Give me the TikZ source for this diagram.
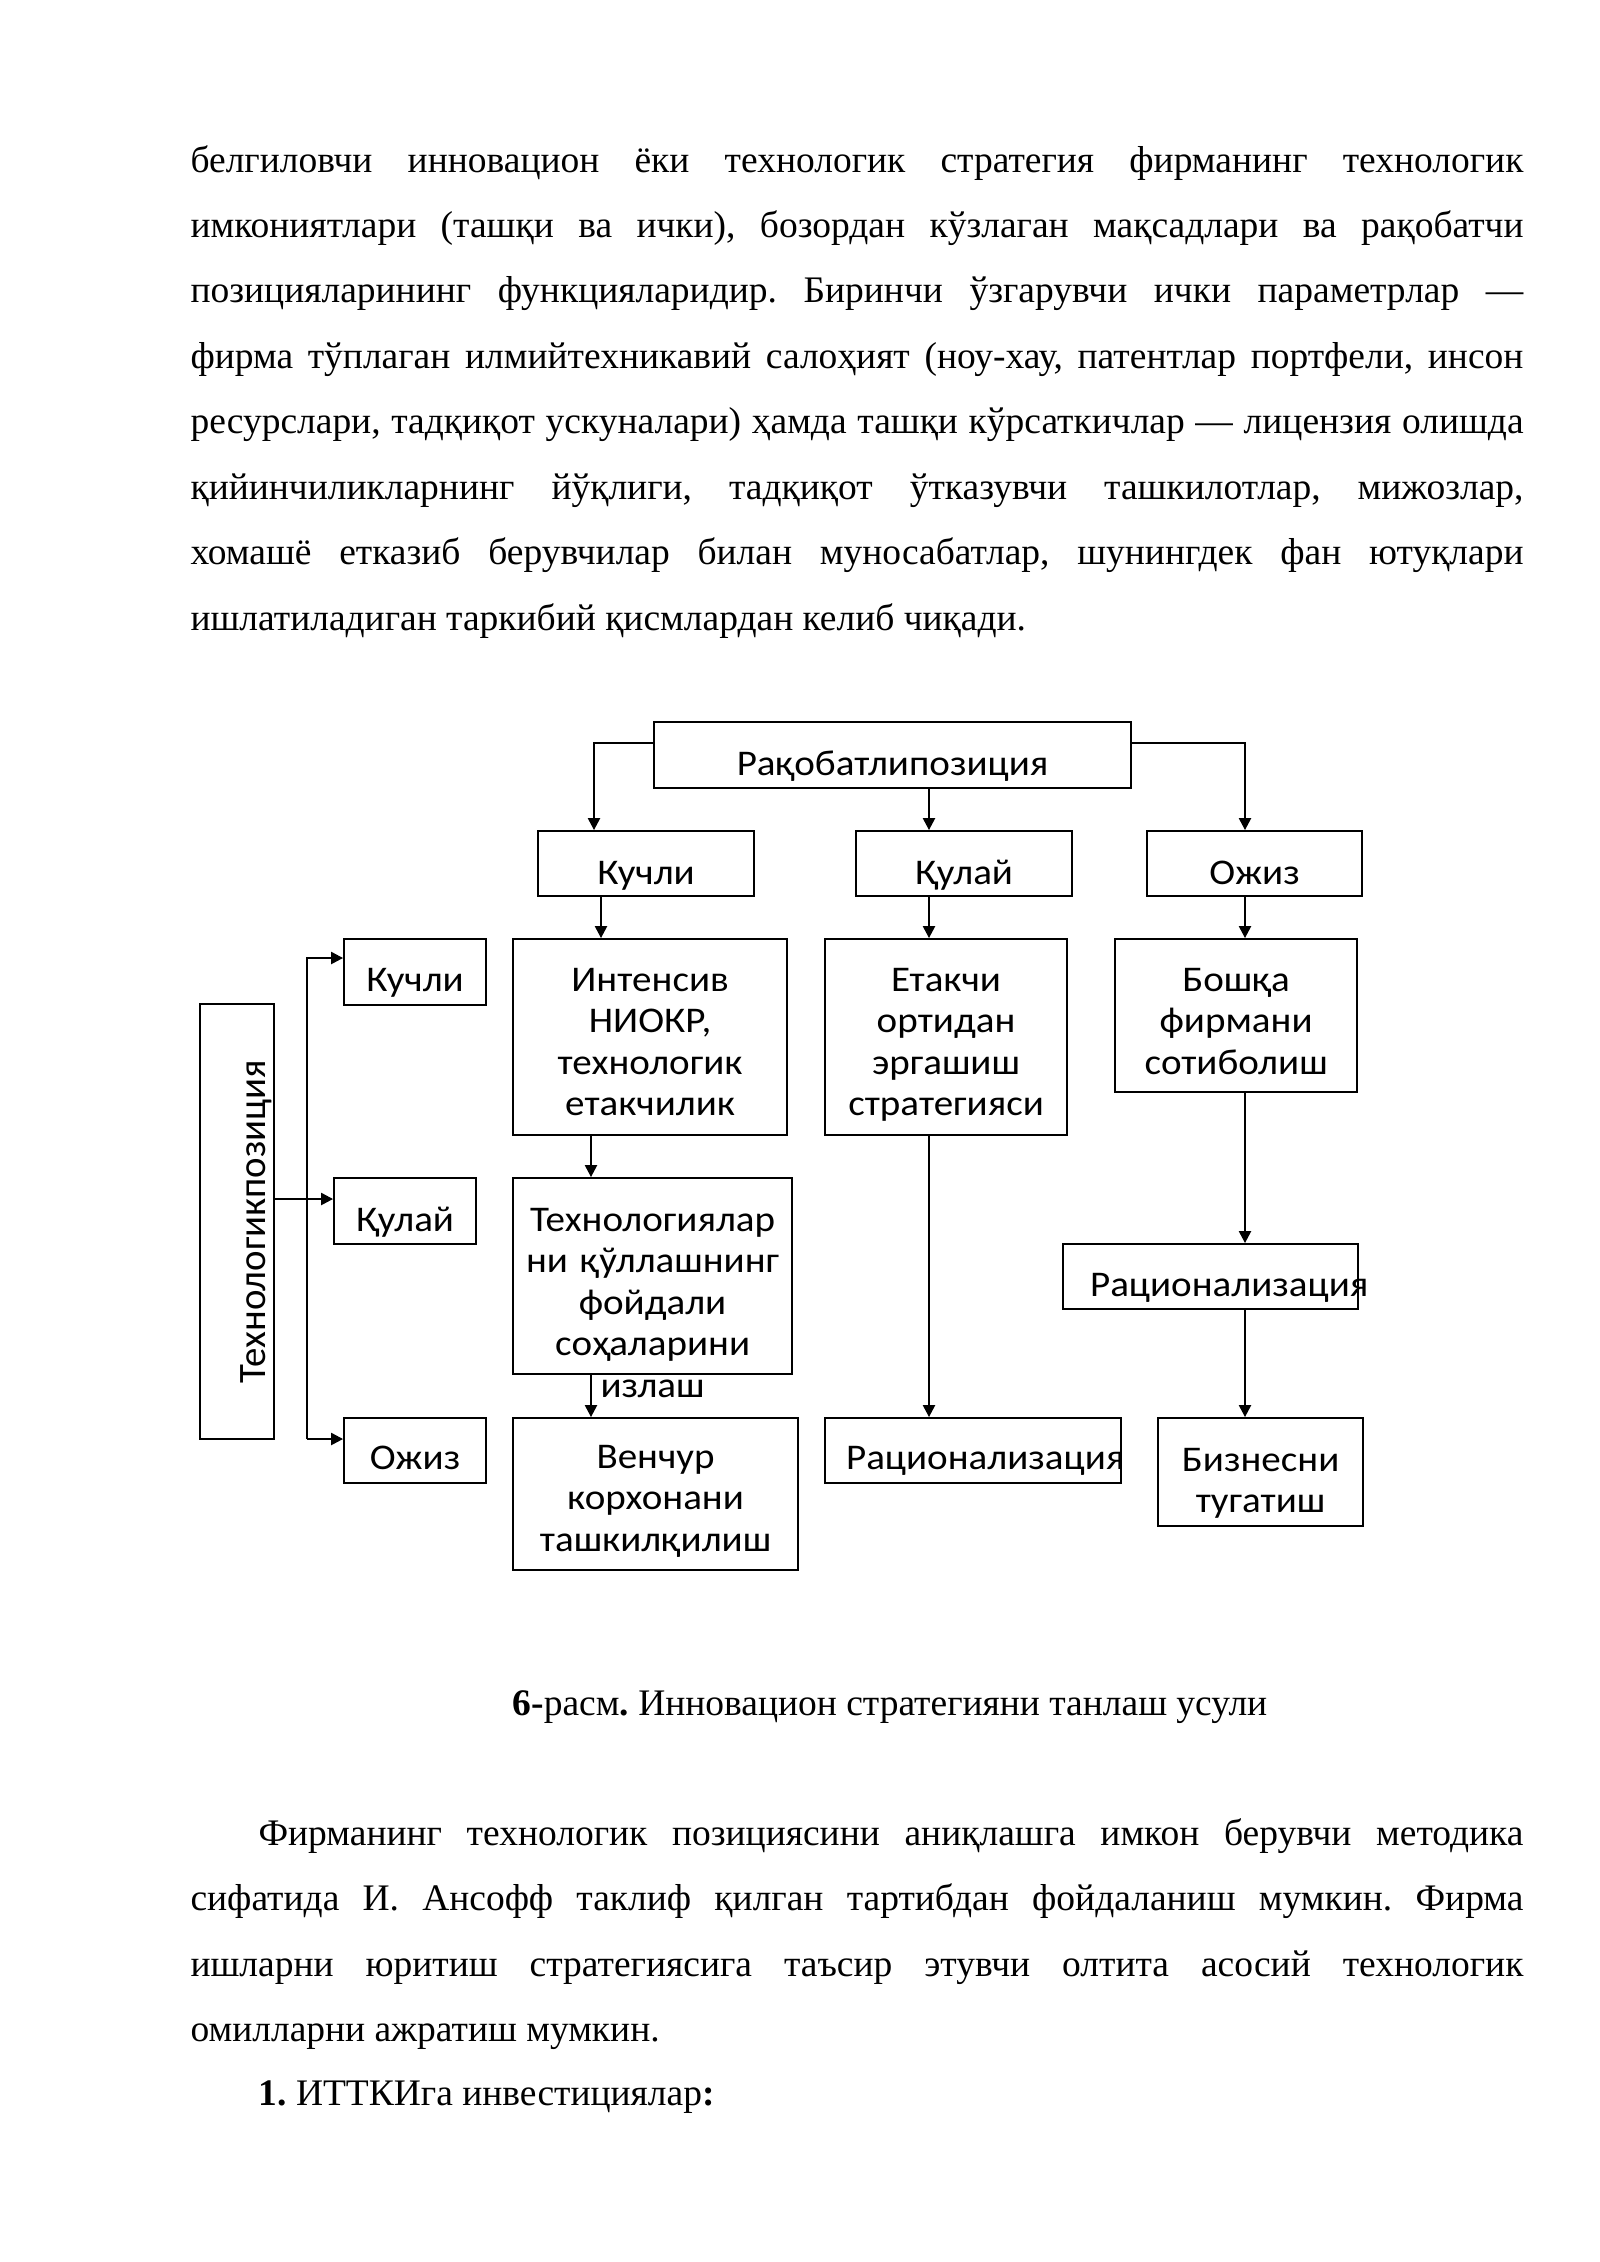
\documentclass[tikz,border=0pt]{standalone}
\usepackage{fontspec}
\setmainfont{Liberation Serif}
\newfontfamily\schemefont[FakeStretch=1.08]{Carlito}
\newfontfamily\schemerot{Carlito}
\usetikzlibrary{arrows.meta}
\newlength\pxu
\setlength\pxu{0.13125mm}
\exhyphenpenalty=10000
\hyphenpenalty=10000
\frenchspacing

\begin{document}
\begin{tikzpicture}[x=0.13125mm, y=-0.13125mm,
    box/.style={draw, line width=0.8pt, inner sep=0pt, anchor=north west, align=center,
        font=\schemefont\fontsize{13.5pt}{15.5pt}\selectfont},
    bsize/.style n args={3}{text width=#1\pxu, text height=#2\pxu, text depth=#3\pxu},
    arr/.style={-{Triangle[length=1.55mm,width=1.6mm]}, line width=0.5pt},
    para/.style={anchor=base west, inner sep=0pt, text width=1333\pxu, align=justify,
        font=\fontsize{14pt}{24.46pt}\selectfont},
    line/.style={anchor=base west, inner sep=0pt, font=\fontsize{14pt}{24.46pt}\selectfont}]
    \useasboundingbox (0,0) rectangle (1600,2262);

    % Text above
    \node[para] (p1) at (190,172) {белгиловчи инновацион ёки технологик стратегия фирманинг технологик\linebreak
        имкониятлари (ташқи ва ички), бозордан кўзлаган мақсадлари ва рақобатчи\linebreak
        позицияларининг функцияларидир. Биринчи ўзгарувчи ички параметрлар —\linebreak
        фирма тўплаган илмийтехникавий салоҳият (ноу-хау, патентлар портфели, инсон\linebreak
        ресурслари, тадқиқот ускуналари) ҳамда ташқи кўрсаткичлар — лицензия олишда\linebreak
        қийинчиликларнинг йўқлиги, тадқиқот ўтказувчи ташкилотлар, мижозлар,\linebreak
        хомашё етказиб берувчилар билан муносабатлар, шунингдек фан ютуқлари\linebreak
        ишлатиладиган таркибий қисмлардан келиб чиқади.};

    % Competitive position
    \node[box, bsize={477}{53}{13}] (rp) at (653,721) {Рақобатлипозиция};
    \node[box, bsize={216}{53}{12}] (k2) at (537,830) {Кучли};
    \node[box, bsize={216}{53}{12}] (q2) at (855,830) {Қулай};
    \node[box, bsize={215}{53}{12}] (o2) at (1146,830) {Ожиз};

    % Strategies
    \node[box, bsize={274}{52}{144}] (int) at (512,938) {Интенсив\\НИОКР,\\технологик\\етакчилик};
    \node[box, bsize={242}{52}{144}] (lead) at (824,938) {Етакчи\\ортидан\\эргашиш\\стратегияси};
    \node[box, bsize={242}{52}{101}] (sell) at (1114,938) {Бошқа\\фирмани\\сотиболиш};
    \node[box, bsize={279}{53}{143}] (use) at (512,1177) {Технологиялар\\ни~қўллашнинг\\фойдали\\соҳаларини\\излаш};
    \node[box, bsize={285}{50}{102}] (ven) at (512,1417) {Венчур\\корхонани\\ташкилқилиш};
    \node[box, align=left, bsize={296}{51}{14}] (rat1) at (824,1417) {\hspace*{21\pxu}Рационализация};
    \node[box, align=left, bsize={295}{52}{13}] (rat2) at (1062,1243) {\hspace*{27\pxu}Рационализация};
    \node[box, bsize={205}{53}{55}] (biz) at (1157,1417) {Бизнесни\\тугатиш};

    % Technological position
    \node[box, rotate=90, anchor=center, bsize={435}{65}{9},
        font=\schemerot\fontsize{14.5pt}{16pt}\selectfont] (tp) at (237,1221.5) {Технологикпозиция};
    \node[box, bsize={142}{52}{14}] (lk) at (343,938) {Кучли};
    \node[box, bsize={142}{53}{13}] (lq) at (333,1177) {Қулай};
    \node[box, bsize={142}{51}{14}] (lo) at (343,1417) {Ожиз};

    % Guide lines
    \coordinate (ya) at (0,743);
    \coordinate (xa) at (594,0);
    \coordinate (xb) at (929,0);
    \coordinate (xc) at (1245,0);
    \coordinate (xd) at (601,0);
    \coordinate (xe) at (591,0);
    \coordinate (xf) at (307,0);
    \coordinate (yk) at (0,958);
    \coordinate (yq) at (0,1199);
    \coordinate (yo) at (0,1439);

    % Arrows
    \draw[arr] (rp.west |- ya) -| (k2.north -| xa);
    \draw[arr] (rp.south -| xb) -- (q2.north -| xb);
    \draw[arr] (rp.east |- ya) -| (o2.north -| xc);
    \draw[arr] (k2.south -| xd) -- (int.north -| xd);
    \draw[arr] (q2.south -| xb) -- (lead.north -| xb);
    \draw[arr] (o2.south -| xc) -- (sell.north -| xc);
    \draw[arr] (int.south -| xe) -- (use.north -| xe);
    \draw[arr] (use.south -| xe) -- (ven.north -| xe);
    \draw[arr] (lead.south -| xb) -- (rat1.north -| xb);
    \draw[arr] (sell.south -| xc) -- (rat2.north -| xc);
    \draw[arr] (rat2.south -| xc) -- (biz.north -| xc);
    \draw[arr] (tp.south |- yq) -- (lq.west |- yq);
    \draw[arr] (xf |- yo) -- (xf |- yk) -- (lk.west |- yk);
    \draw[arr] (xf |- yo) -- (lo.west |- yo);

    % Caption
    \node[line] (cap) at (512,1715) {\textbf{6-}расм\textbf{.} Инновацион стратегияни танлаш усули};

    % Text below
    \node[para] (p2) at (190,1845) {\hspace*{68\pxu}Фирманинг технологик позициясини аниқлашга имкон берувчи методика\linebreak
        сифатида И. Ансофф таклиф қилган тартибдан фойдаланиш мумкин. Фирма\linebreak
        ишларни юритиш стратегиясига таъсир этувчи олтита асосий технологик\linebreak
        омилларни ажратиш мумкин.};
    \node[line] (p3) at (258,2105) {\textbf{1.} ИТТКИга инвестициялар\textbf{:}};
\end{tikzpicture}
\end{document}
